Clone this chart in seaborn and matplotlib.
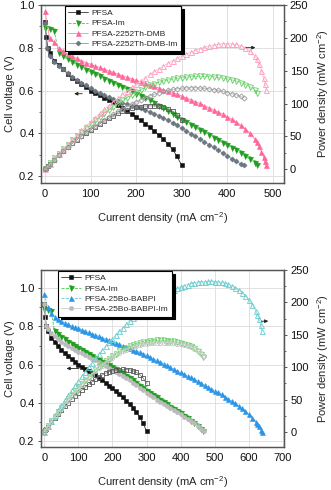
import matplotlib
matplotlib.use("Agg")
import matplotlib.pyplot as plt
import seaborn as sns
from matplotlib.ticker import MultipleLocator

# ---------------- data ----------------
pfsa_cur = [0, 3, 6, 10, 20, 30, 40, 50, 60, 70, 80, 90, 100, 110, 120, 130, 140, 150, 160, 170,
            180, 190, 200, 210, 220, 230, 240, 250, 260, 270, 280, 290, 300]
pfsa_volt = [0.92, 0.85, 0.80, 0.775, 0.74, 0.72, 0.70, 0.677, 0.66, 0.645, 0.63, 0.615, 0.60, 0.59,
             0.577, 0.565, 0.555, 0.545, 0.532, 0.518, 0.505, 0.49, 0.475, 0.46, 0.445, 0.428, 0.41,
             0.393, 0.373, 0.35, 0.325, 0.292, 0.25]
pfsa_pow = [0, 2.6, 4.8, 7.8, 14.8, 21.6, 28.0, 33.9, 39.6, 45.2, 50.4, 55.4, 60.0, 64.9, 69.2, 73.5,
            77.7, 81.8, 85.1, 88.1, 90.9, 93.0, 94.5, 95.5, 96.3, 96.6, 96.4, 95.8, 94.5, 92.0, 88.5,
            83.0, 75.0]

pfsaim_cur = [0, 10, 20, 30, 40, 50, 60, 70, 80, 90, 100, 110, 120, 130, 140, 150, 160, 170, 180, 190,
              200, 210, 220, 230, 240, 250, 260, 270, 280, 290, 300, 310, 320, 330, 340, 350, 360, 370,
              380, 390, 400, 410, 420, 430, 440, 450, 460, 465]
pfsaim_volt = [0.89, 0.888, 0.88, 0.775, 0.76, 0.745, 0.732, 0.72, 0.708, 0.697,
               0.686, 0.676, 0.666, 0.656, 0.646, 0.636, 0.626, 0.616, 0.606, 0.596,
               0.586, 0.576, 0.566, 0.556, 0.543, 0.53, 0.517, 0.503, 0.49, 0.477,
               0.464, 0.452, 0.44, 0.428, 0.416, 0.404, 0.392, 0.38, 0.368, 0.356,
               0.344, 0.332, 0.32, 0.307, 0.293, 0.279, 0.263, 0.25]
pfsaim_pow = [0, 8.9, 17.6, 23.3, 30.4, 37.3, 43.9, 50.4, 56.6, 62.7,
              68.6, 74.4, 79.9, 85.3, 90.4, 95.4, 100.2, 104.7, 109.1, 113.2,
              117.2, 121.0, 124.5, 127.9, 130.3, 132.5, 134.4, 135.8, 137.2, 138.3,
              139.2, 140.1, 140.8, 141.2, 141.4, 141.4, 141.1, 140.6, 139.8, 138.8,
              137.6, 136.1, 134.4, 132.0, 128.9, 125.6, 121.0, 116.3]

dmb_cur = [0, 10, 20, 30, 40, 50, 60, 70, 80, 90, 100, 110, 120, 130, 140, 150, 160, 170, 180, 190,
           200, 210, 220, 230, 240, 250, 260, 270, 280, 290, 300, 310, 320, 330, 340, 350, 360, 370,
           380, 390, 400, 410, 420, 430, 440, 450, 460, 465, 470, 475, 480, 483, 485]
dmb_volt = [0.97, 0.845, 0.825, 0.80, 0.785, 0.77, 0.76, 0.75, 0.74, 0.73,
            0.723, 0.715, 0.708, 0.70, 0.692, 0.685, 0.677, 0.67, 0.662, 0.655,
            0.648, 0.641, 0.634, 0.627, 0.62, 0.612, 0.604, 0.597, 0.59, 0.583,
            0.575, 0.566, 0.557, 0.548, 0.54, 0.53, 0.52, 0.51, 0.50, 0.49,
            0.478, 0.465, 0.452, 0.437, 0.42, 0.40,
            0.375, 0.36, 0.34, 0.315, 0.29, 0.27, 0.25]
dmb_pow = [0, 8.5, 16.5, 24.0, 31.4, 38.5, 45.6, 52.5, 59.2, 65.7,
           72.3, 78.7, 85.0, 91.0, 96.9, 102.8, 108.3, 113.9, 119.2, 124.5,
           129.6, 134.6, 139.5, 144.2, 148.8, 153.0, 157.0, 161.2, 165.2, 169.1,
           172.5, 175.5, 178.2, 180.8, 183.6, 185.5, 187.2, 188.7, 190.0, 191.1,
           191.2, 190.7, 189.8, 187.9, 184.8, 180.0,
           172.5, 167.4, 159.8, 149.6, 139.2, 130.4, 121.3]

dmbim_cur = [0, 4, 10, 20, 30, 40, 50, 60, 70, 80, 90, 100, 110, 120, 130, 140, 150, 160, 170, 180,
             190, 200, 210, 220, 230, 240, 250, 260, 270, 280, 290, 300, 310, 320, 330, 340, 350, 360,
             370, 380, 390, 400, 410, 420, 430, 437]
dmbim_volt = [0.915, 0.80,
              0.76, 0.735, 0.715, 0.70, 0.68, 0.665, 0.65, 0.637, 0.625,
              0.612, 0.60, 0.59, 0.58, 0.57, 0.56, 0.55, 0.543, 0.536, 0.53,
              0.524, 0.517, 0.509, 0.50, 0.491, 0.482, 0.472, 0.461, 0.449, 0.437,
              0.425, 0.412, 0.399, 0.386, 0.373, 0.36, 0.347, 0.334, 0.321, 0.308,
              0.295, 0.282, 0.269, 0.257, 0.25]
dmbim_pow = [0, 3.2,
             7.6, 14.7, 21.5, 28.0, 34.0, 39.9, 45.5, 51.0, 56.3,
             61.2, 66.0, 70.8, 75.4, 79.8, 84.0, 88.0, 92.0, 95.5, 99.0,
             102.5, 105.5, 108.5, 111.5, 114.0, 116.5, 118.5, 120.0, 121.5, 122.5,
             123.3, 123.8, 124.0, 124.0, 123.7, 123.2, 122.4, 121.3, 120.0, 118.5,
             116.8, 115.0, 113.0, 110.8, 108.5]

babpi_cur = [0, 10, 20, 30, 40, 50, 60, 70, 80, 90, 100, 110, 120, 130, 140, 150, 160, 170, 180, 190,
             200, 210, 220, 230, 240, 250, 260, 270, 280, 290, 300, 310, 320, 330, 340, 350, 360, 370,
             380, 390, 400, 410, 420, 430, 440, 450, 460, 470, 480, 490, 500, 510, 520, 530, 540, 550,
             560, 570, 580, 590, 600, 610, 620, 625, 630, 635, 638]
babpi_volt = [0.97, 0.90, 0.87, 0.85, 0.838, 0.828, 0.82, 0.812, 0.805, 0.798,
              0.791, 0.784, 0.777, 0.77, 0.763, 0.756, 0.749, 0.742, 0.735, 0.728,
              0.721, 0.714, 0.707, 0.70, 0.693, 0.686, 0.679, 0.672, 0.665, 0.657,
              0.649, 0.641, 0.632, 0.623, 0.614, 0.605, 0.596, 0.587, 0.578, 0.569,
              0.56, 0.551, 0.542, 0.533, 0.524, 0.514, 0.504, 0.494, 0.484, 0.474,
              0.464, 0.454, 0.444, 0.433, 0.422, 0.41, 0.398, 0.385, 0.371, 0.356,
              0.34, 0.322, 0.302, 0.29, 0.277, 0.26, 0.245]
babpi_pow = [0, 9.0, 17.4, 25.5, 33.5, 41.4, 49.2, 56.8, 64.4, 71.8,
             79.1, 86.2, 93.2, 100.1, 106.8, 113.4, 119.8, 126.1, 132.3, 138.3,
             144.2, 149.9, 155.5, 161.0, 166.3, 171.5, 176.5, 181.4, 186.2, 190.5,
             194.7, 198.7, 202.2, 205.6, 208.8, 211.8, 214.6, 217.2, 219.6, 221.9,
             224.0, 225.9, 227.6, 229.2, 230.6, 231.3, 231.8, 232.2, 232.3, 232.3,
             232.0, 231.5, 230.9, 229.5, 227.9, 225.5, 222.9, 219.5, 215.2, 210.0,
             204.0, 196.4, 187.2, 181.3, 174.5, 165.1, 156.3]

babpiim_cur = [0, 5, 10, 20, 30, 40, 50, 60, 70, 80, 90, 100, 110, 120, 130, 140, 150, 160, 170, 180,
               190, 200, 210, 220, 230, 240, 250, 260, 270, 280, 290, 300, 310, 320, 330, 340, 350,
               360, 370, 380, 390, 400, 410, 420, 430, 440, 450, 460, 467]
babpiim_volt = [0.92, 0.80,
                0.785, 0.765, 0.748, 0.733, 0.72, 0.708, 0.697, 0.687, 0.677,
                0.668, 0.659, 0.65, 0.641, 0.632, 0.623, 0.613, 0.603, 0.593, 0.583,
                0.573, 0.563, 0.553, 0.542, 0.53, 0.518, 0.505, 0.492, 0.479, 0.466,
                0.453, 0.441, 0.429, 0.417, 0.405, 0.394, 0.383, 0.372, 0.361, 0.35,
                0.339, 0.328, 0.317, 0.305, 0.292, 0.278, 0.262, 0.25]
babpiim_pow = [0, 4.0,
               7.9, 15.3, 22.4, 29.3, 36.0, 42.5, 48.8, 55.0, 60.9,
               66.8, 72.5, 78.0, 83.3, 88.5, 93.5, 98.1, 102.5, 106.7, 110.8,
               114.6, 118.2, 121.7, 124.7, 127.2, 129.5, 131.3, 132.8, 134.1, 135.1,
               135.9, 136.7, 137.3, 137.6, 137.7, 137.9, 137.9, 137.6, 137.2, 136.5,
               135.6, 134.5, 133.1, 131.2, 128.5, 125.1, 120.5, 116.8]

top_labels = ["PFSA", "PFSA-Im", "PFSA-2252Th-DMB", "PFSA-2252Th-DMB-Im"]
bot_labels = ["PFSA", "PFSA-Im", "PFSA-25Bo-BABPI", "PFSA-25Bo-BABPI-Im"]
xlabel = "Current density (mA cm$^{-2}$)"
ylabel_left = "Cell voltage (V)"
ylabel_right = "Power density (mW cm$^{-2}$)"

# ---------------- style ----------------
sns.set_theme(style="white")
plt.rcParams['font.family'] = ['Liberation Sans', 'DejaVu Sans']
plt.rcParams['mathtext.default'] = 'regular'

STY = {
    "PFSA": dict(m="s", ms=3.0, mc="#111111", lc="#333333", ls="-", pe="#555555", pl="#888888"),
    "PFSA-Im": dict(m="v", ms=3.6, mc="#1f9e1f", lc="#44cc44", ls="--", pe="#66cc66", pl="#99e699"),
    "PFSA-2252Th-DMB": dict(m="^", ms=3.6, mc="#ff6699", lc="#ff88aa", ls="-", pe="#ff99bb", pl="#ffc0d4"),
    "PFSA-2252Th-DMB-Im": dict(m="D", ms=2.6, mc="#6b7680", lc="#8a949e", ls="-", pe="#9a9a9a", pl="#bbbbbb"),
    "PFSA-25Bo-BABPI": dict(m="^", ms=3.6, mc="#2b95e8", lc="#66cccc", ls="--", pe="#66cccc", pl="#99dddd"),
    "PFSA-25Bo-BABPI-Im": dict(m="o", ms=3.0, mc="#bbbbbb", lc="#cccccc", ls="-", pe="#c4c4c4", pl="#dddddd"),
}

fig = plt.figure(figsize=(3.31, 4.90), dpi=100)
ax_top = fig.add_axes([0.123, 0.627, 0.734, 0.363])
ax_bot = fig.add_axes([0.123, 0.088, 0.735, 0.361])


def draw(ax, series, labels, xlim, ylim_l, ylim_r, leg_anchor, arrows):
    ax2 = ax.twinx()
    handles = []
    for (lab, cur, volt, pw) in series:
        s = STY[lab]
        sns.lineplot(x=cur, y=pw, ax=ax2, color=s["pl"], linewidth=0.6, marker=s["m"],
                     markersize=s["ms"], markerfacecolor="none", markeredgecolor=s["pe"],
                     markeredgewidth=0.6, estimator=None, sort=False, legend=False)
    for (lab, cur, volt, pw) in series:
        s = STY[lab]
        sns.lineplot(x=cur, y=volt, ax=ax, color=s["lc"], linewidth=0.6, linestyle=s["ls"],
                     marker=s["m"], markersize=s["ms"], markerfacecolor=s["mc"],
                     markeredgecolor=s["mc"], markeredgewidth=0.4, estimator=None, sort=False,
                     legend=False)
        handles.append(ax.lines[-1])
    ax.set_xlim(*xlim)
    ax.set_ylim(*ylim_l)
    ax2.set_ylim(*ylim_r)
    ax.xaxis.set_major_locator(MultipleLocator(100))
    ax.xaxis.set_minor_locator(MultipleLocator(50))
    ax.yaxis.set_major_locator(MultipleLocator(0.2))
    ax.yaxis.set_minor_locator(MultipleLocator(0.1))
    ax2.yaxis.set_major_locator(MultipleLocator(50))
    ax2.yaxis.set_minor_locator(MultipleLocator(25))
    ax.grid(True, which="major", color="#dcdcdc", linewidth=0.6)
    ax.set_axisbelow(True)
    for a in (ax, ax2):
        for sp in a.spines.values():
            sp.set_color("#555555")
            sp.set_linewidth(0.9)
    ax.tick_params(axis="both", which="major", direction="out", length=2.5, width=0.7,
                   color="#555555", labelsize=8, pad=2, labelcolor="#111111")
    ax.tick_params(axis="both", which="minor", direction="out", length=1.5, width=0.6,
                   color="#555555")
    ax2.tick_params(axis="y", which="major", direction="out", length=2.5, width=0.7,
                    color="#555555", labelsize=8, pad=2, labelcolor="#111111")
    ax2.tick_params(axis="y", which="minor", direction="out", length=1.5, width=0.6,
                    color="#555555")
    ax.set_xlabel(xlabel, fontsize=8, labelpad=8)
    ax.set_ylabel(ylabel_left, fontsize=8, labelpad=3)
    ax2.set_ylabel(ylabel_right, fontsize=8, labelpad=5)
    leg = ax2.legend(handles, labels, loc="upper left", bbox_to_anchor=leg_anchor,
                     borderaxespad=0, fontsize=6.0, frameon=True, fancybox=False,
                     shadow={"facecolor": "black", "edgecolor": "black", "alpha": 1.0},
                     handlelength=2.4, handletextpad=0.4, labelspacing=0.3,
                     borderpad=0.4, numpoints=1)
    leg.get_frame().set_edgecolor("black")
    leg.get_frame().set_linewidth(0.8)
    leg.get_frame().set_alpha(1.0)
    (lx0, lx1, ly), (rx0, rx1, ry) = arrows
    ax.annotate("", xy=(lx1, ly), xytext=(lx0, ly),
                arrowprops=dict(arrowstyle="-|>", color="#222222", lw=0.6, mutation_scale=5))
    ax2.annotate("", xy=(rx1, ry), xytext=(rx0, ry),
                 arrowprops=dict(arrowstyle="-|>", color="#222222", lw=0.6, mutation_scale=5))
    return ax2


top_series = [
    ("PFSA", pfsa_cur, pfsa_volt, pfsa_pow),
    ("PFSA-Im", pfsaim_cur, pfsaim_volt, pfsaim_pow),
    ("PFSA-2252Th-DMB", dmb_cur, dmb_volt, dmb_pow),
    ("PFSA-2252Th-DMB-Im", dmbim_cur, dmbim_volt, dmbim_pow),
]
bot_series = [
    ("PFSA", pfsa_cur, pfsa_volt, pfsa_pow),
    ("PFSA-Im", pfsaim_cur, pfsaim_volt, pfsaim_pow),
    ("PFSA-25Bo-BABPI", babpi_cur, babpi_volt, babpi_pow),
    ("PFSA-25Bo-BABPI-Im", babpiim_cur, babpiim_volt, babpiim_pow),
]

draw(ax_top, top_series, top_labels, (-9.5, 524), (0.169, 1.0), (-20.4, 250),
     (0.1, 0.994), ((88, 58, 0.585), (435, 468, 185)))
draw(ax_bot, bot_series, bot_labels, (-10.5, 703), (0.169, 1.096), (-23, 250),
     (0.071, 0.994), ((110, 57, 0.58), (628, 665, 171)))

fig.savefig("out.png", dpi=100)
